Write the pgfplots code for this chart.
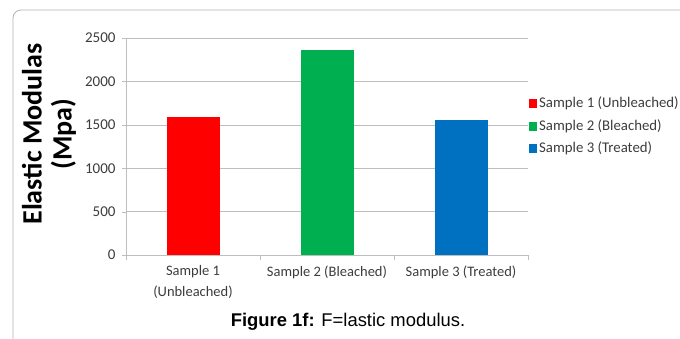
\documentclass[border=0pt]{standalone}
\usepackage{pgfplots}
\pgfplotsset{compat=1.18}
\usepackage{fontspec}
\setmainfont{Carlito}
\newfontfamily\arial{Liberation Sans}
\definecolor{sred}{RGB}{255,0,0}
\definecolor{sgreen}{RGB}{0,176,80}
\definecolor{sblue}{RGB}{0,112,192}
\definecolor{gridgray}{RGB}{190,190,190}
\definecolor{txtgray}{RGB}{60,60,60}
\begin{document}
\begin{tikzpicture}[x=1pt,y=1pt]
\useasboundingbox (0,-338) rectangle (680,0);
% panel frame
\draw[gray!60, line width=0.8pt, rounded corners=8pt] (13,-360) -- (13,-10) -- (700,-10);
\begin{axis}[
  at={(193pt,-255pt)}, anchor=origin,
  scale only axis, width=402pt, height=217pt,
  ymin=0, ymax=2500, ytick={0,500,...,2500},
  xmin=-0.5, xmax=2.5,
  xtick={0,1,2},
  xticklabels={{Sample 1\\(Unbleached)},{Sample 2 (Bleached)},{Sample 3 (Treated)}},
  xticklabel style={align=center, font=\fontsize{14.5}{21}\selectfont, text=txtgray, yshift=-3pt},
  yticklabel style={font=\fontsize{15}{18}\selectfont, text=txtgray, xshift=-3pt},
  /pgf/number format/assume math mode=true,
  /pgf/number format/1000 sep={},
  major x tick style={draw=none},
  minor xtick={-0.5,0.5,1.5,2.5},
  minor x tick style={draw=gridgray},
  tick align=outside, major tick length=4pt, minor tick length=5pt,
  ytick style={draw=gridgray},
  ymajorgrids, grid style={gridgray, line width=0.6pt},
  axis x line*=bottom, axis y line*=left,
  axis line style={gridgray, line width=0.6pt, -},
  ybar, bar width=53pt, bar shift=0pt,
  clip=false,
]
\addplot[fill=sred, draw=none] coordinates {(0,1590)};
\addplot[fill=sgreen, draw=none] coordinates {(1,2360)};
\addplot[fill=sblue, draw=none] coordinates {(2,1560)};
\end{axis}
% legend
\begin{scope}[font=\fontsize{14.8}{18}\selectfont]
\fill[sred] (529,-108) rectangle (537,-99);
\node[anchor=west, text=txtgray, inner sep=0] at (539,-103.5) {Sample 1 (Unbleached)};
\fill[sgreen] (529,-130.5) rectangle (537,-121.5);
\node[anchor=west, text=txtgray, inner sep=0] at (539,-126) {Sample 2 (Bleached)};
\fill[sblue] (529,-153) rectangle (537,-144);
\node[anchor=west, text=txtgray, inner sep=0] at (539,-148.5) {Sample 3 (Treated)};
\end{scope}
% y label
\node[rotate=90, align=center, font=\fontsize{28}{30}\selectfont\bfseries] at (49,-134) {Elastic Modulas\\(Mpa)};
% caption
\node[font=\arial\fontsize{18.4}{22}\selectfont] at (348,-322) {\textbf{Figure 1f:} F=lastic modulus.};
\end{tikzpicture}
\end{document}
